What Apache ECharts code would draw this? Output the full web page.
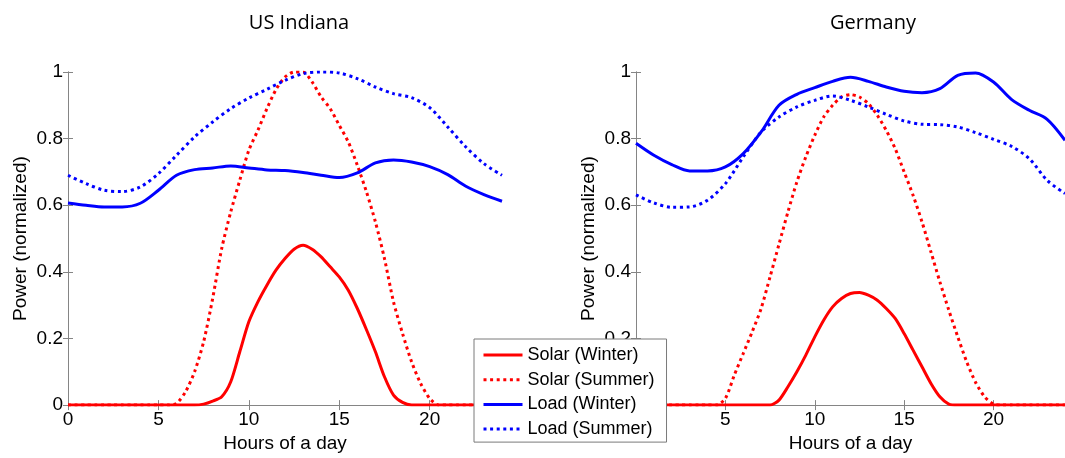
<!DOCTYPE html>
<html>
<head>
<meta charset="utf-8">
<script src="https://cdn.jsdelivr.net/npm/echarts@6/dist/echarts.min.js"></script>
<style>html,body{margin:0;padding:0;background:#fff;}#c{width:1065px;height:458px;}</style>
</head>
<body>
<div id="c"></div>
<script>
// ---- data ----
var plotTitles = ['US Indiana', 'Germany'];
var seriesNames = ['Solar (Winter)', 'Solar (Summer)', 'Load (Winter)', 'Load (Summer)'];
var hoursHalf = [0,0.5,1,1.5,2,2.5,3,3.5,4,4.5,5,5.5,6,6.5,7,7.5,8,8.5,9,9.5,10,10.5,11,11.5,12,12.5,13,13.5,14,14.5,15,15.5,16,16.5,17,17.5,18,18.5,19,19.5,20,20.5,21,21.5,22,22.5,23,23.5,24];
var hoursFull = [0,1,2,3,4,5,6,7,8,9,10,11,12,13,14,15,16,17,18,19,20,21,22,23,24];
var xTicks = [0, 5, 10, 15, 20];
var yTicks = [0, 0.2, 0.4, 0.6, 0.8, 1];

// US Indiana
var usSolarWinter = [0,0,0,0,0,0,0,0,0,0,0,0,0,0,0,
  0.003,0.012,0.025,0.07,0.16,0.25,0.31,0.36,0.405,0.44,0.468,0.48,0.468,0.445,0.415,0.385,0.345,0.29,0.227,0.16,0.085,0.03,0.008,
  0,0,0,0,0,0,0,0,0,0,0];
var usSolarSummer = [0,0,0,0,0,0,0,0,0,0,0,0,
  0.005,0.04,0.1,0.19,0.32,0.47,0.58,0.675,0.765,0.825,0.89,0.947,0.985,1.0,1.0,0.97,0.925,0.89,0.84,0.79,0.72,0.641,0.55,0.44,0.31,0.215,0.13,0.065,0.02,0,
  0,0,0,0,0,0,0];
var usLoadWinter = [0.607,0.6,0.595,0.595,0.606,0.645,0.69,0.707,0.712,0.718,0.712,0.706,0.704,0.698,0.69,0.683,0.697,0.727,0.736,0.73,0.716,0.692,0.657,0.632,0.612];
var usLoadSummer = [0.69,0.665,0.645,0.641,0.655,0.695,0.75,0.805,0.85,0.89,0.922,0.948,0.975,0.995,1.0,0.997,0.98,0.955,0.935,0.923,0.893,0.835,0.775,0.725,0.69];

// Germany
var deSolarWinter = [0,0,0,0,0,0,0,0,0,0,0,0,0,0,0,0,
  0.015,0.055,0.1,0.15,0.205,0.255,0.295,0.32,0.335,0.338,0.33,0.315,0.29,0.26,0.215,0.165,0.115,0.065,0.025,0.003,
  0,0,0,0,0,0,0,0,0,0,0,0,0];
var deSolarSummer = [0,0,0,0,0,0,0,0,0,0,
  0.02,0.09,0.155,0.22,0.29,0.385,0.483,0.58,0.67,0.745,0.81,0.865,0.9,0.925,0.932,0.925,0.905,0.87,0.825,0.77,0.7,0.63,0.55,0.46,0.37,0.285,0.205,0.13,0.068,0.025,0.003,
  0,0,0,0,0,0,0,0];
var deLoadWinter = [0.786,0.75,0.722,0.703,0.703,0.715,0.755,0.82,0.9,0.933,0.953,0.972,0.984,0.972,0.955,0.942,0.938,0.95,0.99,0.997,0.97,0.918,0.885,0.858,0.795];
var deLoadSummer = [0.631,0.607,0.594,0.595,0.615,0.665,0.745,0.82,0.865,0.895,0.915,0.928,0.915,0.895,0.873,0.853,0.843,0.842,0.835,0.818,0.798,0.777,0.74,0.675,0.635];

// ---- chart ----
var RED = '#ff0000', BLUE = '#0000ff', AX = '#858585';
var FONT = 'Liberation Sans, Arial, sans-serif';
var DOT = [3, 3.6];

function pairs(xs, ys) { return xs.map(function (x, i) { return [x, ys[i]]; }); }

var grids = [
  { left: 68, top: 72, width: 434, height: 338 },
  { left: 636, top: 72, width: 433, height: 338 }
];

var xAxes = [], yAxes = [];
[0, 1].forEach(function (g) {
  xAxes.push({
    type: 'value', gridIndex: g, min: 0, max: 24, interval: 5, position: 'bottom',
    name: 'Hours of a day', nameLocation: 'middle', nameGap: 27,
    nameTextStyle: { fontFamily: FONT, fontSize: 19, color: '#000' },
    axisLine: { show: true, lineStyle: { color: AX, width: 1 } },
    axisTick: { show: true, inside: true, length: 5, lineStyle: { color: AX } },
    axisLabel: { show: true, margin: 5, fontFamily: FONT, fontSize: 19, color: '#000', showMaxLabel: false },
    splitLine: { show: false }
  });
  xAxes.push({
    type: 'value', gridIndex: g, min: 0, max: 24, interval: 5, position: 'top',
    axisLine: { show: true, lineStyle: { color: AX, width: 1 } },
    axisTick: { show: true, inside: true, length: 5, lineStyle: { color: AX } },
    axisLabel: { show: false }, splitLine: { show: false }
  });
  yAxes.push({
    type: 'value', gridIndex: g, min: 0, max: 1, interval: 0.2, position: 'left',
    name: 'Power (normalized)', nameLocation: 'middle', nameGap: 38,
    nameTextStyle: { fontFamily: FONT, fontSize: 19, color: '#000' },
    axisLine: { show: true, lineStyle: { color: AX, width: 1 } },
    axisTick: { show: true, inside: true, length: 5, lineStyle: { color: AX } },
    axisLabel: { show: true, margin: 5, fontFamily: FONT, fontSize: 19, color: '#000' },
    splitLine: { show: false }
  });
  yAxes.push({
    type: 'value', gridIndex: g, min: 0, max: 1, interval: 0.2, position: 'right',
    axisLine: { show: true, lineStyle: { color: AX, width: 1 } },
    axisTick: { show: true, inside: true, length: 5, lineStyle: { color: AX } },
    axisLabel: { show: false }, splitLine: { show: false }
  });
});

function mk(name, xs, ys, g, color, dotted, smooth) {
  return {
    name: name, type: 'line', xAxisIndex: g * 2, yAxisIndex: g * 2,
    data: pairs(xs, ys), symbol: 'none', showSymbol: false,
    smooth: smooth,
    lineStyle: { color: color, width: 3, type: dotted ? DOT : 'solid' },
    itemStyle: { color: color },
    emphasis: { disabled: true }
  };
}

var series = [
  mk(seriesNames[0], hoursHalf, usSolarWinter, 0, RED, false, 0.25),
  mk(seriesNames[1], hoursHalf, usSolarSummer, 0, RED, true, 0.25),
  mk(seriesNames[2], hoursFull, usLoadWinter, 0, BLUE, false, 0.3),
  mk(seriesNames[3], hoursFull, usLoadSummer, 0, BLUE, true, 0.3),
  mk(seriesNames[0], hoursHalf, deSolarWinter, 1, RED, false, 0.25),
  mk(seriesNames[1], hoursHalf, deSolarSummer, 1, RED, true, 0.25),
  mk(seriesNames[2], hoursFull, deLoadWinter, 1, BLUE, false, 0.3),
  mk(seriesNames[3], hoursFull, deLoadSummer, 1, BLUE, true, 0.3)
];

var chart = echarts.init(document.getElementById('c'), null, { renderer: 'canvas' });
chart.setOption({
  animation: false,
  backgroundColor: '#ffffff',
  title: [
    { text: plotTitles[0], left: 294, top: 8, textAlign: 'center',
      textStyle: { fontFamily: 'Open Sans, sans-serif', fontSize: 20, fontWeight: 'normal', color: '#000' } },
    { text: plotTitles[1], left: 868, top: 8, textAlign: 'center',
      textStyle: { fontFamily: 'Open Sans, sans-serif', fontSize: 20, fontWeight: 'normal', color: '#000' } }
  ],
  grid: grids,
  xAxis: xAxes,
  yAxis: yAxes,
  legend: {
    data: seriesNames, orient: 'vertical', left: 474, top: 339,
    itemWidth: 39, itemHeight: 14, itemGap: 6.7,
    padding: [7, 12, 4, 8],
    backgroundColor: '#ffffff', borderColor: '#7a7a7a', borderWidth: 1, borderRadius: 0,
    lineStyle: { width: 3 },
    itemStyle: { color: 'transparent', borderWidth: 0, opacity: 0 },
    textStyle: { fontFamily: FONT, fontSize: 18, color: '#000', lineHeight: 18 },
    selectedMode: false, z: 10
  },
  series: series
});
</script>
</body>
</html>
